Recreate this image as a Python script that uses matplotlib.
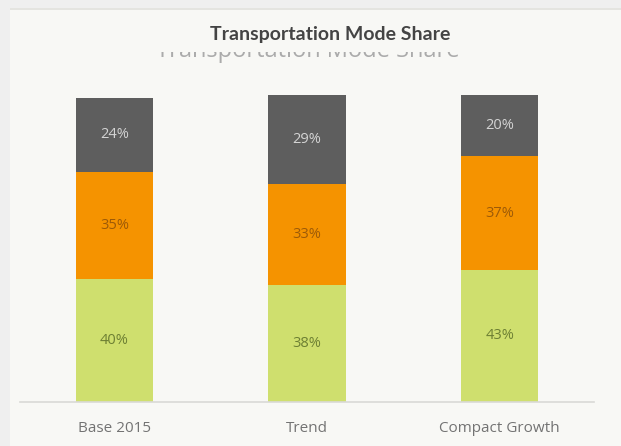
import matplotlib
matplotlib.use("Agg")
import matplotlib.pyplot as plt
from matplotlib.patches import Rectangle
import numpy as np

# mode share per scenario (percent), stacked bottom -> top
scenarios = ["Base 2015", "Trend", "Compact Growth"]
share_green = [40, 38, 43]
share_orange = [35, 33, 37]
share_gray = [24, 29, 20]

seg_colors = ["#cfdf6e", "#f59300", "#5e5e5e"]
label_colors = ["#6d7f33", "#9c5a08", "#d4d4d4"]
card_color = "#f8f8f5"

W, H = 621, 446
fig = plt.figure(figsize=(W / 100, H / 100), dpi=100)
fig.patch.set_facecolor("#efefef")


def px(x0, y0, x1, y1):
    # pixel box (from top-left) -> figure fraction rect
    return [x0 / W, 1 - y1 / H, (x1 - x0) / W, (y1 - y0) / H]


def add_rect(box, color, z):
    r = Rectangle(box[:2], box[2], box[3], transform=fig.transFigure,
                  facecolor=color, edgecolor="none", zorder=z)
    fig.patches.append(r)


# card behind the chart, with a faint top edge
add_rect(px(10, 8, W, H), card_color, -3)
add_rect(px(10, 8, W, 10), "#e4e4e0", -2)

# faded duplicate heading, only its lower strip shows under the main title
fig.text(308 / W, 1 - 57 / H, "Transportation Mode Share", ha="center",
         va="baseline", fontsize=17, color="#ababab", family="Open Sans", zorder=-1)
add_rect(px(10, 10, W, 52), card_color, -0.5)

ax = fig.add_axes(px(20, 95, 594, 402))
ax.set_facecolor("none")

x = np.arange(len(scenarios))
bottom = np.zeros(len(scenarios))
for vals, col, lcol in zip([share_green, share_orange, share_gray], seg_colors, label_colors):
    vals = np.array(vals, dtype=float)
    ax.bar(x, vals, width=0.4, bottom=bottom, color=col, edgecolor="none", zorder=2)
    for xi, b, v in zip(x, bottom, vals):
        ax.text(xi, b + v / 2, f"{int(v)}%", ha="center", va="center",
                fontsize=10.5, color=lcol, family="Open Sans", zorder=3)
    bottom += vals

ax.set_xlim(-0.49, 2.49)
ax.set_ylim(0, 100)
ax.set_yticks([])
ax.set_xticks(x)
ax.set_xticklabels(scenarios, fontsize=11, color="#737373", family="Open Sans")
ax.tick_params(axis="x", length=0, pad=14)
for s in ["top", "right", "left"]:
    ax.spines[s].set_visible(False)
ax.spines["bottom"].set_color("#d9d9d6")
ax.spines["bottom"].set_linewidth(1.2)

fig.text(330 / W, 1 - 40 / H, "Transportation Mode Share", ha="center",
         va="baseline", fontsize=14, fontweight="bold", color="#444444", family="Lato")

fig.savefig("out.png", dpi=100, facecolor=fig.get_facecolor())
